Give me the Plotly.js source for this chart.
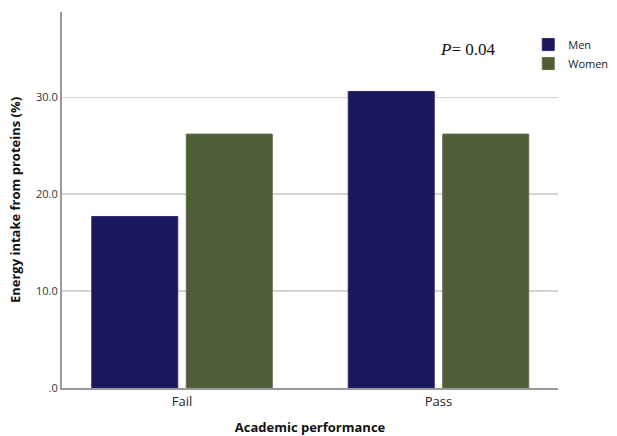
<!DOCTYPE html>
<html>
<head>
<meta charset="utf-8">
<script src="https://cdn.plot.ly/plotly-3.0.1.min.js"></script>
<style>html,body{margin:0;padding:0;background:#fff;}#chart{width:617px;height:436px;}</style>
</head>
<body>
<div id="chart"></div>
<script>
const categories = ["Fail", "Pass"];
const menValues = [17.7, 30.6];
const womenValues = [26.2, 26.2];
const yTickVals = [0, 10, 20, 30];
const yTickText = [".0", "10.0", "20.0", "30.0"];

const traces = [
  {type: "bar", name: "Men", x: categories, y: menValues,
   marker: {color: "#1a175c", line: {color: "#2a2a70", width: 1}}, hoverinfo: "none"},
  {type: "bar", name: "Women", x: categories, y: womenValues,
   marker: {color: "#4f5e37", line: {color: "#5f6e47", width: 1}}, hoverinfo: "none"}
];

const layout = {
  width: 617, height: 436,
  margin: {l: 62, r: 59, t: 12, b: 48, autoexpand: false},
  paper_bgcolor: "#fff", plot_bgcolor: "#fff",
  font: {family: "Open Sans, sans-serif", color: "#222"},
  barmode: "group",
  bargap: 0.263,
  bargroupgap: 0.09,
  showlegend: true,
  legend: {x: 0.94, xanchor: "left", y: 0.952, yanchor: "top",
           font: {size: 11, color: "#222"}, tracegroupgap: 0,
           itemwidth: 30, bgcolor: "rgba(0,0,0,0)"},
  xaxis: {
    type: "category", range: [-0.468, 1.466],
    showline: true, linecolor: "#999", linewidth: 2,
    ticks: "", showgrid: false,
    tickfont: {size: 13, color: "#222"},
    title: {text: "<b>Academic performance</b>", font: {size: 13, color: "#111"}, standoff: 16}
  },
  yaxis: {
    range: [0, 38.8], tickvals: yTickVals, ticktext: yTickText,
    showline: true, linecolor: "#999", linewidth: 2,
    showgrid: true, gridcolor: "#d4d4d4", gridwidth: 1.5,
    zeroline: false, ticks: "",
    tickfont: {size: 11, color: "#333"},
    title: {text: "<b>Energy intake from proteins (%)</b>", font: {size: 13, color: "#111"}, standoff: 12}
  },
  annotations: [
    {xref: "paper", yref: "paper", x: 0.818, y: 0.9, xanchor: "center", yanchor: "middle",
     text: "<i>P</i>= 0.04", showarrow: false,
     font: {family: "Liberation Serif, serif", size: 17, color: "#111"}}
  ]
};

Plotly.newPlot("chart", traces, layout, {staticPlot: true, displayModeBar: false});
</script>
</body>
</html>
